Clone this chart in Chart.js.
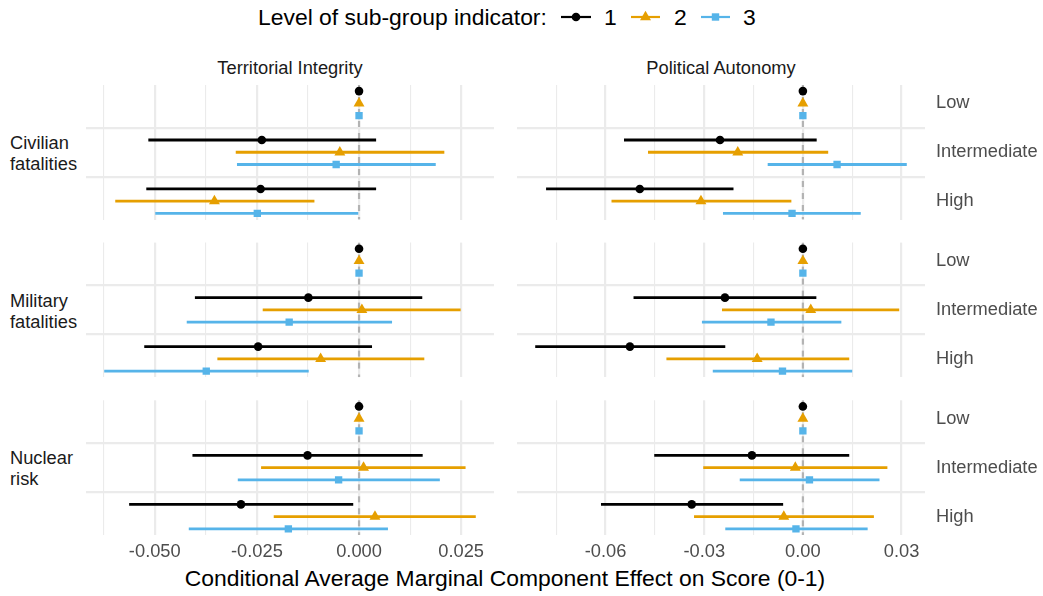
<!DOCTYPE html>
<html>
<head>
<meta charset="utf-8">
<script src="https://cdn.jsdelivr.net/npm/chart.js@4.4.1/dist/chart.umd.min.js"></script>
<style>
  html, body { margin: 0; padding: 0; background: #ffffff; }
  #wrap { position: relative; width: 1043px; height: 596px; overflow: hidden;
          font-family: "Liberation Sans", Arial, Helvetica, sans-serif; }
  #wrap canvas { position: absolute; left: 0; top: 0; }
  .t { position: absolute; white-space: nowrap; line-height: 1; }
  .strip { font-size: 18.3px; color: #1a1a1a; transform: translateX(-50%); }
  .rowlab { font-size: 18.3px; color: #1a1a1a; line-height: 21px; white-space: pre; }
  .leg { font-size: 22.9px; color: #000; }
  svg.key { position: absolute; overflow: visible; }
</style>
</head>
<body>
<div id="wrap">
  <div class="t leg" style="left:258px; top:6px;">Level of sub-group indicator:</div>
  <svg class="key" style="left:561px; top:9px;" width="30" height="16">
    <line x1="0" y1="8" x2="30" y2="8" stroke="#000000" stroke-width="2.2"/>
    <circle cx="15" cy="8" r="4.3" fill="#000000"/>
  </svg>
  <div class="t leg" style="left:604px; top:6px;">1</div>
  <svg class="key" style="left:631px; top:9px;" width="29" height="16">
    <line x1="0" y1="8" x2="29" y2="8" stroke="#E69F00" stroke-width="2.2"/>
    <polygon points="14.5,1.7 20,11.2 9,11.2" fill="#E69F00"/>
  </svg>
  <div class="t leg" style="left:674px; top:6px;">2</div>
  <svg class="key" style="left:701px; top:9px;" width="29" height="16">
    <line x1="0" y1="8" x2="29" y2="8" stroke="#56B4E9" stroke-width="2.2"/>
    <rect x="10.8" y="4.3" width="7.4" height="7.4" fill="#56B4E9"/>
  </svg>
  <div class="t leg" style="left:743px; top:6px;">3</div>

  <div class="t strip" style="left:290px; top:59px;">Territorial Integrity</div>
  <div class="t strip" style="left:721px; top:59px;">Political Autonomy</div>

  <div class="t rowlab" style="left:10px; top:132px;">Civilian
fatalities</div>
  <div class="t rowlab" style="left:10px; top:290px;">Military
fatalities</div>
  <div class="t rowlab" style="left:10px; top:447px;">Nuclear
risk</div>

  <div class="t" style="left:505px; top:567px; font-size:22.9px; color:#000; transform:translateX(-50%);">Conditional Average Marginal Component Effect on Score (0-1)</div>
</div>

<script>
// ---- data -------------------------------------------------------------
const categories = ['Low', 'Intermediate', 'High'];
const seriesNames = ['1', '2', '3'];
const seriesColors = ['#000000', '#E69F00', '#56B4E9'];
const seriesShapes = ['circle', 'triangle', 'rect'];
const seriesRadius = [4.3, 6.3, 5.2];

// per panel: rows = series 1..3, columns = Low / Intermediate / High
const civTerrEst = [[0, -0.0238, -0.0241], [0, -0.0047, -0.0354], [0, -0.0056, -0.0249]];
const civTerrLo  = [[0, -0.0515, -0.0520], [0, -0.0301, -0.0596], [0, -0.0298, -0.0498]];
const civTerrHi  = [[0,  0.0041,  0.0041], [0,  0.0208, -0.0110], [0,  0.0187,  0.0000]];

const civPolEst = [[0, -0.0252, -0.0496], [0, -0.0198, -0.0310], [0,  0.0104, -0.0033]];
const civPolLo  = [[0, -0.0543, -0.0780], [0, -0.0470, -0.0581], [0, -0.0106, -0.0242]];
const civPolHi  = [[0,  0.0041, -0.0212], [0,  0.0076, -0.0036], [0,  0.0315,  0.0175]];

const milTerrEst = [[0, -0.0124, -0.0247], [0,  0.0007, -0.0094], [0, -0.0171, -0.0374]];
const milTerrLo  = [[0, -0.0401, -0.0525], [0, -0.0235, -0.0346], [0, -0.0421, -0.0623]];
const milTerrHi  = [[0,  0.0154,  0.0031], [0,  0.0248,  0.0159], [0,  0.0080, -0.0124]];

const milPolEst = [[0, -0.0237, -0.0526], [0,  0.0024, -0.0139], [0, -0.0097, -0.0062]];
const milPolLo  = [[0, -0.0514, -0.0813], [0, -0.0245, -0.0414], [0, -0.0306, -0.0273]];
const milPolHi  = [[0,  0.0040, -0.0237], [0,  0.0292,  0.0140], [0,  0.0116,  0.0149]];

const nucTerrEst = [[0, -0.0126, -0.0289], [0,  0.0011,  0.0039], [0, -0.0050, -0.0173]];
const nucTerrLo  = [[0, -0.0407, -0.0562], [0, -0.0239, -0.0208], [0, -0.0296, -0.0416]];
const nucTerrHi  = [[0,  0.0155, -0.0015], [0,  0.0260,  0.0285], [0,  0.0197,  0.0070]];

const nucPolEst = [[0, -0.0155, -0.0338], [0, -0.0023, -0.0058], [0,  0.0020, -0.0021]];
const nucPolLo  = [[0, -0.0451, -0.0613], [0, -0.0302, -0.0330], [0, -0.0191, -0.0235]];
const nucPolHi  = [[0,  0.0140, -0.0061], [0,  0.0256,  0.0215], [0,  0.0232,  0.0196]];

// x-axis ticks per facet column
const terrTicks = [-0.05, -0.025, 0, 0.025];
const terrTickLabels = ['-0.050', '-0.025', '0.000', '0.025'];
const terrMinorTicks = [-0.0625, -0.0375, -0.0125, 0.0125];
const polTicks = [-0.06, -0.03, 0, 0.03];
const polTickLabels = ['-0.06', '-0.03', '0.00', '0.03'];
const polMinorTicks = [-0.075, -0.045, -0.015, 0.015];

// ---- layout -----------------------------------------------------------
const W = 1043, H = 596;
const FONT = '"Liberation Sans", Arial, Helvetica, sans-serif';
const colBox = [[86, 494], [517, 925]];
const rowBox = [[85, 219.5], [242.6, 377.2], [400.3, 535]];
const X_AXIS_H = 40, Y_AXIS_W = 118;
const dodge = [-0.25, 0, 0.25];
const ySpan = categories.length - 1 + dodge[2] - dodge[0];
const yMin = 1 + dodge[0] - 0.05 * ySpan;
const yMax = categories.length + dodge[2] + 0.05 * ySpan;

const panels = [
  [[civTerrEst, civTerrLo, civTerrHi], [civPolEst, civPolLo, civPolHi]],
  [[milTerrEst, milTerrLo, milTerrHi], [milPolEst, milPolLo, milPolHi]],
  [[nucTerrEst, nucTerrLo, nucTerrHi], [nucPolEst, nucPolLo, nucPolHi]]
];

// shared x range per column: data range plus 5% on each side
function columnRange(c) {
  let lo = Infinity, hi = -Infinity;
  panels.forEach(row => {
    row[c].forEach(m => m.forEach(s => s.forEach(v => { lo = Math.min(lo, v); hi = Math.max(hi, v); })));
  });
  const pad = (hi - lo) * 0.05;
  return [lo - pad, hi + pad];
}

const wrap = document.getElementById('wrap');

function makePanel(r, c) {
  const [est, lo, hi] = panels[r][c];
  const [xMin, xMax] = columnRange(c);
  const major = c === 0 ? terrTicks : polTicks;
  const majorLabels = c === 0 ? terrTickLabels : polTickLabels;
  const minor = c === 0 ? terrMinorTicks : polMinorTicks;
  const allTicks = major.concat(minor).sort((a, b) => a - b);
  const majorIndex = v => major.findIndex(t => Math.abs(t - v) < 1e-9);
  const tickVal = ctx => (ctx && ctx.tick ? ctx.tick.value : NaN);
  const showX = r === 2, showY = c === 1;
  const xAxisH = showX ? X_AXIS_H : 0;
  const yAxisW = showY ? Y_AXIS_W : 0;

  const canvas = document.createElement('canvas');
  canvas.width = W; canvas.height = H;
  canvas.style.width = W + 'px'; canvas.style.height = H + 'px';
  wrap.appendChild(canvas);

  const datasets = [{
    type: 'line',
    data: [{ x: 0, y: yMin }, { x: 0, y: yMax }],
    borderColor: '#b3b3b3', borderWidth: 2.2, borderDash: [6, 6],
    pointRadius: 0, order: 3
  }];
  for (let s = 0; s < seriesNames.length; s++) {
    datasets.push({
      type: 'bar', label: seriesNames[s], indexAxis: 'y', grouped: false,
      barThickness: 2.2, borderWidth: 0, backgroundColor: seriesColors[s],
      data: categories.map((cat, i) => ({ y: i + 1 + dodge[s], x: [lo[s][i], hi[s][i]] })),
      order: 2
    });
    datasets.push({
      type: 'scatter', label: seriesNames[s],
      data: categories.map((cat, i) => ({ x: est[s][i], y: i + 1 + dodge[s] })),
      pointStyle: seriesShapes[s], pointRadius: seriesRadius[s],
      backgroundColor: seriesColors[s], borderWidth: 0, order: 1
    });
  }

  new Chart(canvas, {
    type: 'scatter',
    data: { datasets },
    options: {
      responsive: false, animation: false, devicePixelRatio: 1, events: [],
      layout: { padding: {
        left: colBox[c][0], right: W - colBox[c][1] - yAxisW,
        top: rowBox[r][0], bottom: H - rowBox[r][1] - xAxisH } },
      plugins: { legend: { display: false }, tooltip: { enabled: false } },
      scales: {
        x: {
          type: 'linear', min: xMin, max: xMax, bounds: 'data', offset: false,
          afterFit: s => { s.height = xAxisH; },
          afterBuildTicks: s => { s.ticks = allTicks.map(v => ({ value: v })); },
          grid: {
            color: '#ebebeb', drawTicks: false, offset: false,
            lineWidth: ctx => (majorIndex(tickVal(ctx)) >= 0 ? 2.2 : 1.1)
          },
          border: { display: false },
          ticks: {
            display: showX, autoSkip: false, maxRotation: 0, minRotation: 0,
            padding: 6, color: '#4d4d4d', font: { family: FONT, size: 18.3 },
            callback: v => { const k = majorIndex(v); return k >= 0 ? majorLabels[k] : ''; }
          }
        },
        y: {
          type: 'linear', position: 'right', reverse: true, min: yMin, max: yMax,
          bounds: 'data', offset: false,
          afterFit: s => { s.width = yAxisW; },
          afterBuildTicks: s => { s.ticks = [1, 1.5, 2, 2.5, 3].map(v => ({ value: v })); },
          grid: {
            drawTicks: false, offset: false,
            color: ctx => (Number.isInteger(tickVal(ctx)) || isNaN(tickVal(ctx)) ? 'rgba(0,0,0,0)' : '#ebebeb'),
            lineWidth: ctx => (Number.isInteger(tickVal(ctx)) || isNaN(tickVal(ctx)) ? 0 : 2.2)
          },
          border: { display: false },
          ticks: {
            display: showY, autoSkip: false, padding: 11,
            color: '#4d4d4d', font: { family: FONT, size: 18.3 },
            callback: v => (Number.isInteger(v) ? categories[v - 1] : '')
          }
        }
      }
    }
  });
}

for (let r = 0; r < 3; r++) for (let c = 0; c < 2; c++) makePanel(r, c);
</script>
</body>
</html>
